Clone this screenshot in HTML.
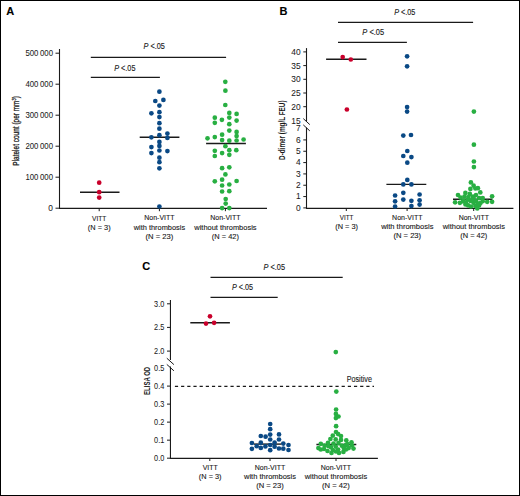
<!DOCTYPE html>
<html><head><meta charset="utf-8"><style>
html,body{margin:0;padding:0;background:#fff;}
body{width:520px;height:496px;overflow:hidden;}
svg{display:block;font-family:"Liberation Sans", sans-serif;}
</style></head><body>
<svg width="520" height="496" viewBox="0 0 520 496">
<rect x="0" y="0" width="520" height="496" fill="#fff"/>
<rect x="0.5" y="0.5" width="519" height="495" fill="none" stroke="#000" stroke-width="1"/>
<text x="6.3" y="14.8" font-size="11" text-anchor="start" font-weight="bold" font-style="normal" fill="#000" stroke="#000" stroke-width="0.12" >A</text>
<line x1="59.5" y1="49" x2="59.5" y2="208.9" stroke="#1a1a1a" stroke-width="1.1" />
<line x1="59.0" y1="208.4" x2="267" y2="208.4" stroke="#1a1a1a" stroke-width="1.2" />
<line x1="55.5" y1="53.2" x2="59.5" y2="53.2" stroke="#1a1a1a" stroke-width="1.0" />
<text x="53" y="56.1" font-size="8.4" text-anchor="end" font-weight="normal" font-style="normal" fill="#1a1a1a" stroke="#1a1a1a" stroke-width="0.05" textLength="27.6" lengthAdjust="spacingAndGlyphs" >500 000</text>
<line x1="55.5" y1="84.2" x2="59.5" y2="84.2" stroke="#1a1a1a" stroke-width="1.0" />
<text x="53" y="87.10000000000001" font-size="8.4" text-anchor="end" font-weight="normal" font-style="normal" fill="#1a1a1a" stroke="#1a1a1a" stroke-width="0.05" textLength="27.6" lengthAdjust="spacingAndGlyphs" >400 000</text>
<line x1="55.5" y1="115.2" x2="59.5" y2="115.2" stroke="#1a1a1a" stroke-width="1.0" />
<text x="53" y="118.10000000000001" font-size="8.4" text-anchor="end" font-weight="normal" font-style="normal" fill="#1a1a1a" stroke="#1a1a1a" stroke-width="0.05" textLength="27.6" lengthAdjust="spacingAndGlyphs" >300 000</text>
<line x1="55.5" y1="146.2" x2="59.5" y2="146.2" stroke="#1a1a1a" stroke-width="1.0" />
<text x="53" y="149.1" font-size="8.4" text-anchor="end" font-weight="normal" font-style="normal" fill="#1a1a1a" stroke="#1a1a1a" stroke-width="0.05" textLength="27.6" lengthAdjust="spacingAndGlyphs" >200 000</text>
<line x1="55.5" y1="177.2" x2="59.5" y2="177.2" stroke="#1a1a1a" stroke-width="1.0" />
<text x="53" y="180.1" font-size="8.4" text-anchor="end" font-weight="normal" font-style="normal" fill="#1a1a1a" stroke="#1a1a1a" stroke-width="0.05" textLength="27.6" lengthAdjust="spacingAndGlyphs" >100 000</text>
<line x1="55.5" y1="208.2" x2="59.5" y2="208.2" stroke="#1a1a1a" stroke-width="1.0" />
<text x="53" y="211.1" font-size="8.4" text-anchor="end" font-weight="normal" font-style="normal" fill="#1a1a1a" stroke="#1a1a1a" stroke-width="0.05" >0</text>
<line x1="99.2" y1="208.4" x2="99.2" y2="211.2" stroke="#1a1a1a" stroke-width="1.0" />
<line x1="159.4" y1="208.4" x2="159.4" y2="211.2" stroke="#1a1a1a" stroke-width="1.0" />
<line x1="225.4" y1="208.4" x2="225.4" y2="211.2" stroke="#1a1a1a" stroke-width="1.0" />
<line x1="90.8" y1="57.45" x2="226.1" y2="57.45" stroke="#1a1a1a" stroke-width="1.2" />
<line x1="90.8" y1="77.45" x2="159.9" y2="77.45" stroke="#1a1a1a" stroke-width="1.2" />
<text x="114.2" y="70.7" font-size="8.4" fill="#1a1a1a" stroke="#1a1a1a" stroke-width="0.12" textLength="21.299999999999997" lengthAdjust="spacingAndGlyphs"><tspan font-style="italic">P</tspan> &lt;.05</text>
<text x="143.5" y="49.2" font-size="8.4" fill="#1a1a1a" stroke="#1a1a1a" stroke-width="0.12" textLength="21.400000000000006" lengthAdjust="spacingAndGlyphs"><tspan font-style="italic">P</tspan> &lt;.05</text>
<text transform="translate(19.0,130.9) rotate(-90)" font-size="9" text-anchor="middle" fill="#1a1a1a" stroke="#1a1a1a" stroke-width="0.3" textLength="69.5" lengthAdjust="spacingAndGlyphs">Platelet count (per mm<tspan font-size="5.5" dy="-3">3</tspan><tspan dy="3">)</tspan></text>
<line x1="80.0" y1="192.2" x2="119.5" y2="192.2" stroke="#1a1a1a" stroke-width="1.4" />
<line x1="139.7" y1="137.3" x2="179.4" y2="137.3" stroke="#1a1a1a" stroke-width="1.4" />
<line x1="206.1" y1="143.5" x2="245.9" y2="143.5" stroke="#1a1a1a" stroke-width="1.4" />
<circle cx="99.2" cy="182.7" r="2.35" fill="#c9002b"/>
<circle cx="99.2" cy="192.2" r="2.35" fill="#c9002b"/>
<circle cx="99.2" cy="197.6" r="2.35" fill="#c9002b"/>
<circle cx="159.4" cy="91.65" r="2.35" fill="#0a4985"/>
<circle cx="155.3" cy="101.0" r="2.35" fill="#0a4985"/>
<circle cx="163.4" cy="99.9" r="2.35" fill="#0a4985"/>
<circle cx="159.4" cy="105.6" r="2.35" fill="#0a4985"/>
<circle cx="151.4" cy="113.3" r="2.35" fill="#0a4985"/>
<circle cx="159.4" cy="112.2" r="2.35" fill="#0a4985"/>
<circle cx="159.4" cy="117.1" r="2.35" fill="#0a4985"/>
<circle cx="159.4" cy="123.2" r="2.35" fill="#0a4985"/>
<circle cx="159.4" cy="128.7" r="2.35" fill="#0a4985"/>
<circle cx="159.4" cy="135.2" r="2.35" fill="#0a4985"/>
<circle cx="151.4" cy="137.3" r="2.35" fill="#0a4985"/>
<circle cx="167.4" cy="133.6" r="2.35" fill="#0a4985"/>
<circle cx="167.4" cy="137.9" r="2.35" fill="#0a4985"/>
<circle cx="159.4" cy="141.9" r="2.35" fill="#0a4985"/>
<circle cx="159.4" cy="145.9" r="2.35" fill="#0a4985"/>
<circle cx="159.4" cy="150.5" r="2.35" fill="#0a4985"/>
<circle cx="151.4" cy="147.1" r="2.35" fill="#0a4985"/>
<circle cx="151.4" cy="153.1" r="2.35" fill="#0a4985"/>
<circle cx="167.4" cy="151.1" r="2.35" fill="#0a4985"/>
<circle cx="159.4" cy="157.7" r="2.35" fill="#0a4985"/>
<circle cx="159.4" cy="162.2" r="2.35" fill="#0a4985"/>
<circle cx="159.4" cy="168.3" r="2.35" fill="#0a4985"/>
<circle cx="159.4" cy="206.5" r="2.35" fill="#0a4985"/>
<circle cx="225.3" cy="81.8" r="2.35" fill="#28af42"/>
<circle cx="225.4" cy="90.7" r="2.35" fill="#28af42"/>
<circle cx="225.3" cy="105.0" r="2.35" fill="#28af42"/>
<circle cx="229.3" cy="112.9" r="2.35" fill="#28af42"/>
<circle cx="236.6" cy="113.9" r="2.35" fill="#28af42"/>
<circle cx="214.8" cy="117.7" r="2.35" fill="#28af42"/>
<circle cx="221.9" cy="119.8" r="2.35" fill="#28af42"/>
<circle cx="229.3" cy="117.6" r="2.35" fill="#28af42"/>
<circle cx="236.6" cy="120.6" r="2.35" fill="#28af42"/>
<circle cx="214.8" cy="122.8" r="2.35" fill="#28af42"/>
<circle cx="229.3" cy="124.2" r="2.35" fill="#28af42"/>
<circle cx="229.3" cy="130.6" r="2.35" fill="#28af42"/>
<circle cx="236.6" cy="131.9" r="2.35" fill="#28af42"/>
<circle cx="236.6" cy="136.1" r="2.35" fill="#28af42"/>
<circle cx="236.6" cy="140.5" r="2.35" fill="#28af42"/>
<circle cx="207.5" cy="138.3" r="2.35" fill="#28af42"/>
<circle cx="214.8" cy="137.1" r="2.35" fill="#28af42"/>
<circle cx="222.1" cy="134.7" r="2.35" fill="#28af42"/>
<circle cx="222.1" cy="140.1" r="2.35" fill="#28af42"/>
<circle cx="229.3" cy="140.7" r="2.35" fill="#28af42"/>
<circle cx="243.6" cy="139.5" r="2.35" fill="#28af42"/>
<circle cx="225.4" cy="146.2" r="2.35" fill="#28af42"/>
<circle cx="214.8" cy="150.8" r="2.35" fill="#28af42"/>
<circle cx="222.1" cy="153.1" r="2.35" fill="#28af42"/>
<circle cx="229.3" cy="150.2" r="2.35" fill="#28af42"/>
<circle cx="236.3" cy="150.2" r="2.35" fill="#28af42"/>
<circle cx="214.8" cy="156.0" r="2.35" fill="#28af42"/>
<circle cx="229.3" cy="154.8" r="2.35" fill="#28af42"/>
<circle cx="222.1" cy="168.2" r="2.35" fill="#28af42"/>
<circle cx="229.3" cy="167.3" r="2.35" fill="#28af42"/>
<circle cx="225.4" cy="174.4" r="2.35" fill="#28af42"/>
<circle cx="214.8" cy="181.3" r="2.35" fill="#28af42"/>
<circle cx="222.1" cy="179.7" r="2.35" fill="#28af42"/>
<circle cx="236.6" cy="181.0" r="2.35" fill="#28af42"/>
<circle cx="222.1" cy="185.5" r="2.35" fill="#28af42"/>
<circle cx="229.3" cy="184.5" r="2.35" fill="#28af42"/>
<circle cx="222.1" cy="191.5" r="2.35" fill="#28af42"/>
<circle cx="229.3" cy="191.2" r="2.35" fill="#28af42"/>
<circle cx="225.7" cy="199.0" r="2.35" fill="#28af42"/>
<circle cx="225.7" cy="203.6" r="2.35" fill="#28af42"/>
<circle cx="222.1" cy="208.1" r="2.35" fill="#28af42"/>
<circle cx="229.3" cy="208.1" r="2.35" fill="#28af42"/>
<text x="99.2" y="220.6" font-size="8.0" text-anchor="middle" font-weight="normal" font-style="normal" fill="#1a1a1a" stroke="#1a1a1a" stroke-width="0.12" textLength="14.3" lengthAdjust="spacingAndGlyphs" >VITT</text>
<text x="99.2" y="229.6" font-size="8.0" text-anchor="middle" font-weight="normal" font-style="normal" fill="#1a1a1a" stroke="#1a1a1a" stroke-width="0.12" textLength="22.8" lengthAdjust="spacingAndGlyphs" >(N = 3)</text>
<text x="159.4" y="220.4" font-size="8.0" text-anchor="middle" font-weight="normal" font-style="normal" fill="#1a1a1a" stroke="#1a1a1a" stroke-width="0.12" textLength="30.3" lengthAdjust="spacingAndGlyphs" >Non-VITT</text>
<text x="159.4" y="229.7" font-size="8.0" text-anchor="middle" font-weight="normal" font-style="normal" fill="#1a1a1a" stroke="#1a1a1a" stroke-width="0.12" textLength="51.4" lengthAdjust="spacingAndGlyphs" >with thrombosis</text>
<text x="159.4" y="238.6" font-size="8.0" text-anchor="middle" font-weight="normal" font-style="normal" fill="#1a1a1a" stroke="#1a1a1a" stroke-width="0.12" textLength="27.7" lengthAdjust="spacingAndGlyphs" >(N = 23)</text>
<text x="225.4" y="220.4" font-size="8.0" text-anchor="middle" font-weight="normal" font-style="normal" fill="#1a1a1a" stroke="#1a1a1a" stroke-width="0.12" textLength="30.3" lengthAdjust="spacingAndGlyphs" >Non-VITT</text>
<text x="225.4" y="229.6" font-size="8.0" text-anchor="middle" font-weight="normal" font-style="normal" fill="#1a1a1a" stroke="#1a1a1a" stroke-width="0.12" textLength="62.3" lengthAdjust="spacingAndGlyphs" >without thrombosis</text>
<text x="225.4" y="238.6" font-size="8.0" text-anchor="middle" font-weight="normal" font-style="normal" fill="#1a1a1a" stroke="#1a1a1a" stroke-width="0.12" textLength="27.1" lengthAdjust="spacingAndGlyphs" >(N = 42)</text>
<text x="279.5" y="14.9" font-size="11" text-anchor="start" font-weight="bold" font-style="normal" fill="#000" stroke="#000" stroke-width="0.12" >B</text>
<line x1="306.5" y1="48.1" x2="306.5" y2="121.3" stroke="#1a1a1a" stroke-width="1.1" />
<line x1="306.5" y1="127.6" x2="306.5" y2="208.9" stroke="#1a1a1a" stroke-width="1.1" />
<line x1="306.0" y1="208.4" x2="513.4" y2="208.4" stroke="#1a1a1a" stroke-width="1.2" />
<line x1="303.3" y1="51.9" x2="306.5" y2="51.9" stroke="#1a1a1a" stroke-width="1.0" />
<text x="300.6" y="54.8" font-size="8.4" text-anchor="end" font-weight="normal" font-style="normal" fill="#1a1a1a" stroke="#1a1a1a" stroke-width="0.05" >40</text>
<line x1="303.3" y1="65.6" x2="306.5" y2="65.6" stroke="#1a1a1a" stroke-width="1.0" />
<text x="300.6" y="68.5" font-size="8.4" text-anchor="end" font-weight="normal" font-style="normal" fill="#1a1a1a" stroke="#1a1a1a" stroke-width="0.05" >35</text>
<line x1="303.3" y1="79.3" x2="306.5" y2="79.3" stroke="#1a1a1a" stroke-width="1.0" />
<text x="300.6" y="82.2" font-size="8.4" text-anchor="end" font-weight="normal" font-style="normal" fill="#1a1a1a" stroke="#1a1a1a" stroke-width="0.05" >30</text>
<line x1="303.3" y1="93.0" x2="306.5" y2="93.0" stroke="#1a1a1a" stroke-width="1.0" />
<text x="300.6" y="95.9" font-size="8.4" text-anchor="end" font-weight="normal" font-style="normal" fill="#1a1a1a" stroke="#1a1a1a" stroke-width="0.05" >25</text>
<line x1="303.3" y1="106.69999999999999" x2="306.5" y2="106.69999999999999" stroke="#1a1a1a" stroke-width="1.0" />
<text x="300.6" y="109.6" font-size="8.4" text-anchor="end" font-weight="normal" font-style="normal" fill="#1a1a1a" stroke="#1a1a1a" stroke-width="0.05" >20</text>
<text x="300.6" y="123.6" font-size="8.4" text-anchor="end" font-weight="normal" font-style="normal" fill="#1a1a1a" stroke="#1a1a1a" stroke-width="0.05" >15</text>
<line x1="303.3" y1="207.9" x2="306.5" y2="207.9" stroke="#1a1a1a" stroke-width="1.0" />
<text x="300.6" y="210.8" font-size="8.4" text-anchor="end" font-weight="normal" font-style="normal" fill="#1a1a1a" stroke="#1a1a1a" stroke-width="0.05" >0</text>
<line x1="303.3" y1="196.57" x2="306.5" y2="196.57" stroke="#1a1a1a" stroke-width="1.0" />
<text x="300.6" y="199.47" font-size="8.4" text-anchor="end" font-weight="normal" font-style="normal" fill="#1a1a1a" stroke="#1a1a1a" stroke-width="0.05" >1</text>
<line x1="303.3" y1="185.24" x2="306.5" y2="185.24" stroke="#1a1a1a" stroke-width="1.0" />
<text x="300.6" y="188.14000000000001" font-size="8.4" text-anchor="end" font-weight="normal" font-style="normal" fill="#1a1a1a" stroke="#1a1a1a" stroke-width="0.05" >2</text>
<line x1="303.3" y1="173.91" x2="306.5" y2="173.91" stroke="#1a1a1a" stroke-width="1.0" />
<text x="300.6" y="176.81" font-size="8.4" text-anchor="end" font-weight="normal" font-style="normal" fill="#1a1a1a" stroke="#1a1a1a" stroke-width="0.05" >3</text>
<line x1="303.3" y1="162.58" x2="306.5" y2="162.58" stroke="#1a1a1a" stroke-width="1.0" />
<text x="300.6" y="165.48000000000002" font-size="8.4" text-anchor="end" font-weight="normal" font-style="normal" fill="#1a1a1a" stroke="#1a1a1a" stroke-width="0.05" >4</text>
<line x1="303.3" y1="151.25" x2="306.5" y2="151.25" stroke="#1a1a1a" stroke-width="1.0" />
<text x="300.6" y="154.15" font-size="8.4" text-anchor="end" font-weight="normal" font-style="normal" fill="#1a1a1a" stroke="#1a1a1a" stroke-width="0.05" >5</text>
<line x1="303.3" y1="139.92000000000002" x2="306.5" y2="139.92000000000002" stroke="#1a1a1a" stroke-width="1.0" />
<text x="300.6" y="142.82000000000002" font-size="8.4" text-anchor="end" font-weight="normal" font-style="normal" fill="#1a1a1a" stroke="#1a1a1a" stroke-width="0.05" >6</text>
<text x="300.6" y="130.9" font-size="8.4" text-anchor="end" font-weight="normal" font-style="normal" fill="#1a1a1a" stroke="#1a1a1a" stroke-width="0.05" >7</text>
<line x1="303.3" y1="118.6" x2="309.8" y2="124.6" stroke="#1a1a1a" stroke-width="1.0" />
<line x1="303.3" y1="124.9" x2="309.8" y2="130.9" stroke="#1a1a1a" stroke-width="1.0" />
<line x1="346.3" y1="208.4" x2="346.3" y2="211.0" stroke="#1a1a1a" stroke-width="1.0" />
<line x1="407.1" y1="208.4" x2="407.1" y2="211.0" stroke="#1a1a1a" stroke-width="1.0" />
<line x1="473.7" y1="208.4" x2="473.7" y2="211.0" stroke="#1a1a1a" stroke-width="1.0" />
<line x1="338.0" y1="22.4" x2="473.1" y2="22.4" stroke="#1a1a1a" stroke-width="1.2" />
<line x1="338.0" y1="42.4" x2="406.9" y2="42.4" stroke="#1a1a1a" stroke-width="1.2" />
<text x="362.3" y="34.5" font-size="8.4" fill="#1a1a1a" stroke="#1a1a1a" stroke-width="0.12" textLength="21.899999999999977" lengthAdjust="spacingAndGlyphs"><tspan font-style="italic">P</tspan> &lt;.05</text>
<text x="394.2" y="15.0" font-size="8.4" fill="#1a1a1a" stroke="#1a1a1a" stroke-width="0.12" textLength="21.19999999999999" lengthAdjust="spacingAndGlyphs"><tspan font-style="italic">P</tspan> &lt;.05</text>
<text transform="translate(285.0,130.2) rotate(-90)" font-size="8.6" font-weight="bold" text-anchor="middle" fill="#1a1a1a" textLength="59.5" lengthAdjust="spacingAndGlyphs">D-dimer (mg/L FEU)</text>
<line x1="326.1" y1="59.2" x2="366.5" y2="59.2" stroke="#1a1a1a" stroke-width="1.4" />
<line x1="386.4" y1="184.4" x2="426.3" y2="184.4" stroke="#1a1a1a" stroke-width="1.4" />
<line x1="453.0" y1="199.2" x2="492.4" y2="199.2" stroke="#1a1a1a" stroke-width="1.4" />
<circle cx="342.7" cy="57.1" r="2.35" fill="#c9002b"/>
<circle cx="350.8" cy="59.5" r="2.35" fill="#c9002b"/>
<circle cx="346.9" cy="109.5" r="2.35" fill="#c9002b"/>
<circle cx="407.1" cy="56.3" r="2.35" fill="#0a4985"/>
<circle cx="407.1" cy="66.3" r="2.35" fill="#0a4985"/>
<circle cx="407.1" cy="107.1" r="2.35" fill="#0a4985"/>
<circle cx="407.1" cy="111.6" r="2.35" fill="#0a4985"/>
<circle cx="403.3" cy="135.6" r="2.35" fill="#0a4985"/>
<circle cx="411.0" cy="135.0" r="2.35" fill="#0a4985"/>
<circle cx="407.3" cy="151.0" r="2.35" fill="#0a4985"/>
<circle cx="403.3" cy="156.0" r="2.35" fill="#0a4985"/>
<circle cx="411.4" cy="157.1" r="2.35" fill="#0a4985"/>
<circle cx="407.3" cy="162.7" r="2.35" fill="#0a4985"/>
<circle cx="407.3" cy="179.9" r="2.35" fill="#0a4985"/>
<circle cx="403.3" cy="184.4" r="2.35" fill="#0a4985"/>
<circle cx="411.4" cy="184.4" r="2.35" fill="#0a4985"/>
<circle cx="403.3" cy="192.8" r="2.35" fill="#0a4985"/>
<circle cx="403.3" cy="199.6" r="2.35" fill="#0a4985"/>
<circle cx="395.1" cy="195.5" r="2.35" fill="#0a4985"/>
<circle cx="395.1" cy="201.3" r="2.35" fill="#0a4985"/>
<circle cx="395.1" cy="206.5" r="2.35" fill="#0a4985"/>
<circle cx="411.4" cy="200.8" r="2.35" fill="#0a4985"/>
<circle cx="411.4" cy="206.1" r="2.35" fill="#0a4985"/>
<circle cx="419.6" cy="194.5" r="2.35" fill="#0a4985"/>
<circle cx="419.6" cy="200.3" r="2.35" fill="#0a4985"/>
<circle cx="419.6" cy="204.6" r="2.35" fill="#0a4985"/>
<circle cx="473.9" cy="111.6" r="2.35" fill="#28af42"/>
<circle cx="473.9" cy="144.7" r="2.35" fill="#28af42"/>
<circle cx="473.9" cy="161.5" r="2.35" fill="#28af42"/>
<circle cx="473.9" cy="167.1" r="2.35" fill="#28af42"/>
<circle cx="470.9" cy="182.4" r="2.35" fill="#28af42"/>
<circle cx="473.6" cy="185.7" r="2.35" fill="#28af42"/>
<circle cx="475.4" cy="188.5" r="2.35" fill="#28af42"/>
<circle cx="477.9" cy="188.2" r="2.35" fill="#28af42"/>
<circle cx="470.4" cy="188.9" r="2.35" fill="#28af42"/>
<circle cx="465.4" cy="192.9" r="2.35" fill="#28af42"/>
<circle cx="469.8" cy="193.9" r="2.35" fill="#28af42"/>
<circle cx="480.3" cy="192.4" r="2.35" fill="#28af42"/>
<circle cx="458.0" cy="195.0" r="2.35" fill="#28af42"/>
<circle cx="460.6" cy="197.6" r="2.35" fill="#28af42"/>
<circle cx="455.1" cy="202.3" r="2.35" fill="#28af42"/>
<circle cx="459.9" cy="202.8" r="2.35" fill="#28af42"/>
<circle cx="467.7" cy="199.7" r="2.35" fill="#28af42"/>
<circle cx="473.0" cy="196.5" r="2.35" fill="#28af42"/>
<circle cx="476.0" cy="195.1" r="2.35" fill="#28af42"/>
<circle cx="473.6" cy="198.1" r="2.35" fill="#28af42"/>
<circle cx="479.1" cy="198.1" r="2.35" fill="#28af42"/>
<circle cx="482.7" cy="198.1" r="2.35" fill="#28af42"/>
<circle cx="482.7" cy="201.2" r="2.35" fill="#28af42"/>
<circle cx="487.2" cy="201.8" r="2.35" fill="#28af42"/>
<circle cx="492.1" cy="196.3" r="2.35" fill="#28af42"/>
<circle cx="492.1" cy="201.8" r="2.35" fill="#28af42"/>
<circle cx="468.2" cy="205.4" r="2.35" fill="#28af42"/>
<circle cx="473.5" cy="202.8" r="2.35" fill="#28af42"/>
<circle cx="476.0" cy="201.2" r="2.35" fill="#28af42"/>
<circle cx="479.1" cy="205.4" r="2.35" fill="#28af42"/>
<circle cx="475.4" cy="206.0" r="2.35" fill="#28af42"/>
<circle cx="477.3" cy="208.4" r="2.35" fill="#28af42"/>
<circle cx="463.5" cy="200.5" r="2.35" fill="#28af42"/>
<circle cx="465.5" cy="204.5" r="2.35" fill="#28af42"/>
<circle cx="470.5" cy="201.0" r="2.35" fill="#28af42"/>
<circle cx="471.0" cy="206.5" r="2.35" fill="#28af42"/>
<circle cx="464.5" cy="196.5" r="2.35" fill="#28af42"/>
<circle cx="468.5" cy="197.0" r="2.35" fill="#28af42"/>
<circle cx="480.5" cy="203.0" r="2.35" fill="#28af42"/>
<circle cx="472.0" cy="200.0" r="2.35" fill="#28af42"/>
<circle cx="478.0" cy="203.5" r="2.35" fill="#28af42"/>
<circle cx="463.0" cy="201.5" r="2.35" fill="#28af42"/>
<circle cx="466.0" cy="203.0" r="2.35" fill="#28af42"/>
<text x="346.6" y="220.3" font-size="8.0" text-anchor="middle" font-weight="normal" font-style="normal" fill="#1a1a1a" stroke="#1a1a1a" stroke-width="0.12" textLength="13.7" lengthAdjust="spacingAndGlyphs" >VITT</text>
<text x="346.6" y="229.4" font-size="8.0" text-anchor="middle" font-weight="normal" font-style="normal" fill="#1a1a1a" stroke="#1a1a1a" stroke-width="0.12" textLength="22.8" lengthAdjust="spacingAndGlyphs" >(N = 3)</text>
<text x="407.3" y="220.2" font-size="8.0" text-anchor="middle" font-weight="normal" font-style="normal" fill="#1a1a1a" stroke="#1a1a1a" stroke-width="0.12" textLength="30.4" lengthAdjust="spacingAndGlyphs" >Non-VITT</text>
<text x="407.3" y="229.4" font-size="8.0" text-anchor="middle" font-weight="normal" font-style="normal" fill="#1a1a1a" stroke="#1a1a1a" stroke-width="0.12" textLength="52.3" lengthAdjust="spacingAndGlyphs" >with thrombosis</text>
<text x="407.3" y="238.3" font-size="8.0" text-anchor="middle" font-weight="normal" font-style="normal" fill="#1a1a1a" stroke="#1a1a1a" stroke-width="0.12" textLength="27.7" lengthAdjust="spacingAndGlyphs" >(N = 23)</text>
<text x="473.8" y="220.2" font-size="8.0" text-anchor="middle" font-weight="normal" font-style="normal" fill="#1a1a1a" stroke="#1a1a1a" stroke-width="0.12" textLength="30.3" lengthAdjust="spacingAndGlyphs" >Non-VITT</text>
<text x="473.8" y="229.4" font-size="8.0" text-anchor="middle" font-weight="normal" font-style="normal" fill="#1a1a1a" stroke="#1a1a1a" stroke-width="0.12" textLength="62.3" lengthAdjust="spacingAndGlyphs" >without thrombosis</text>
<text x="473.8" y="238.3" font-size="8.0" text-anchor="middle" font-weight="normal" font-style="normal" fill="#1a1a1a" stroke="#1a1a1a" stroke-width="0.12" textLength="27.1" lengthAdjust="spacingAndGlyphs" >(N = 42)</text>
<text x="142.3" y="270.2" font-size="11" text-anchor="start" font-weight="bold" font-style="normal" fill="#000" stroke="#000" stroke-width="0.12" >C</text>
<line x1="170.45" y1="300.0" x2="170.45" y2="360.0" stroke="#1a1a1a" stroke-width="1.1" />
<line x1="170.45" y1="366.5" x2="170.45" y2="458.9" stroke="#1a1a1a" stroke-width="1.1" />
<line x1="169.95" y1="458.4" x2="377.9" y2="458.4" stroke="#1a1a1a" stroke-width="1.2" />
<line x1="167.0" y1="303.8" x2="170.45" y2="303.8" stroke="#1a1a1a" stroke-width="1.0" />
<text x="164.3" y="306.7" font-size="8.4" text-anchor="end" font-weight="normal" font-style="normal" fill="#1a1a1a" stroke="#1a1a1a" stroke-width="0.05" textLength="10.2" lengthAdjust="spacingAndGlyphs" >3.0</text>
<line x1="167.0" y1="327.4" x2="170.45" y2="327.4" stroke="#1a1a1a" stroke-width="1.0" />
<text x="164.3" y="330.29999999999995" font-size="8.4" text-anchor="end" font-weight="normal" font-style="normal" fill="#1a1a1a" stroke="#1a1a1a" stroke-width="0.05" textLength="10.2" lengthAdjust="spacingAndGlyphs" >2.5</text>
<line x1="167.0" y1="351.1" x2="170.45" y2="351.1" stroke="#1a1a1a" stroke-width="1.0" />
<text x="164.3" y="354.0" font-size="8.4" text-anchor="end" font-weight="normal" font-style="normal" fill="#1a1a1a" stroke="#1a1a1a" stroke-width="0.05" textLength="10.2" lengthAdjust="spacingAndGlyphs" >2.0</text>
<text x="164.3" y="370.7" font-size="8.4" text-anchor="end" font-weight="normal" font-style="normal" fill="#1a1a1a" stroke="#1a1a1a" stroke-width="0.05" textLength="10.2" lengthAdjust="spacingAndGlyphs" >0.5</text>
<line x1="167.0" y1="386.1" x2="170.45" y2="386.1" stroke="#1a1a1a" stroke-width="1.0" />
<text x="164.3" y="389.0" font-size="8.4" text-anchor="end" font-weight="normal" font-style="normal" fill="#1a1a1a" stroke="#1a1a1a" stroke-width="0.05" textLength="10.2" lengthAdjust="spacingAndGlyphs" >0.4</text>
<line x1="167.0" y1="404.12" x2="170.45" y2="404.12" stroke="#1a1a1a" stroke-width="1.0" />
<text x="164.3" y="407.02" font-size="8.4" text-anchor="end" font-weight="normal" font-style="normal" fill="#1a1a1a" stroke="#1a1a1a" stroke-width="0.05" textLength="10.2" lengthAdjust="spacingAndGlyphs" >0.3</text>
<line x1="167.0" y1="422.14000000000004" x2="170.45" y2="422.14000000000004" stroke="#1a1a1a" stroke-width="1.0" />
<text x="164.3" y="425.04" font-size="8.4" text-anchor="end" font-weight="normal" font-style="normal" fill="#1a1a1a" stroke="#1a1a1a" stroke-width="0.05" textLength="10.2" lengthAdjust="spacingAndGlyphs" >0.2</text>
<line x1="167.0" y1="440.16" x2="170.45" y2="440.16" stroke="#1a1a1a" stroke-width="1.0" />
<text x="164.3" y="443.06" font-size="8.4" text-anchor="end" font-weight="normal" font-style="normal" fill="#1a1a1a" stroke="#1a1a1a" stroke-width="0.05" textLength="10.2" lengthAdjust="spacingAndGlyphs" >0.1</text>
<line x1="167.0" y1="458.18" x2="170.45" y2="458.18" stroke="#1a1a1a" stroke-width="1.0" />
<text x="164.3" y="461.08" font-size="8.4" text-anchor="end" font-weight="normal" font-style="normal" fill="#1a1a1a" stroke="#1a1a1a" stroke-width="0.05" textLength="10.2" lengthAdjust="spacingAndGlyphs" >0.0</text>
<line x1="166.8" y1="358.2" x2="173.9" y2="364.6" stroke="#1a1a1a" stroke-width="1.0" />
<line x1="166.8" y1="364.4" x2="173.9" y2="370.8" stroke="#1a1a1a" stroke-width="1.0" />
<line x1="209.8" y1="458.4" x2="209.8" y2="461.0" stroke="#1a1a1a" stroke-width="1.0" />
<line x1="270.0" y1="458.4" x2="270.0" y2="461.0" stroke="#1a1a1a" stroke-width="1.0" />
<line x1="336.0" y1="458.4" x2="336.0" y2="461.0" stroke="#1a1a1a" stroke-width="1.0" />
<line x1="210.5" y1="277.45" x2="342.7" y2="277.45" stroke="#1a1a1a" stroke-width="1.2" />
<line x1="210.5" y1="297.4" x2="277.7" y2="297.4" stroke="#1a1a1a" stroke-width="1.2" />
<text x="232.0" y="289.9" font-size="8.4" fill="#1a1a1a" stroke="#1a1a1a" stroke-width="0.12" textLength="21.099999999999994" lengthAdjust="spacingAndGlyphs"><tspan font-style="italic">P</tspan> &lt;.05</text>
<text x="263.5" y="270.0" font-size="8.4" fill="#1a1a1a" stroke="#1a1a1a" stroke-width="0.12" textLength="21.5" lengthAdjust="spacingAndGlyphs"><tspan font-style="italic">P</tspan> &lt;.05</text>
<line x1="174.9" y1="386.4" x2="374.0" y2="386.4" stroke="#1a1a1a" stroke-width="1.3" stroke-dasharray="3.2 2.975"/>
<text x="346.7" y="382.3" font-size="8.5" text-anchor="start" font-weight="normal" font-style="normal" fill="#1a1a1a" stroke="#1a1a1a" stroke-width="0.12" textLength="25.2" lengthAdjust="spacingAndGlyphs" >Positive</text>
<text transform="translate(149.9,380.9) rotate(-90)" font-size="8.2" font-weight="bold" text-anchor="middle" fill="#1a1a1a" textLength="28" lengthAdjust="spacingAndGlyphs">ELISA OD</text>
<line x1="190.3" y1="322.8" x2="229.9" y2="322.8" stroke="#1a1a1a" stroke-width="1.4" />
<line x1="253.8" y1="444.1" x2="281.5" y2="444.1" stroke="#1a1a1a" stroke-width="1.4" />
<line x1="316.4" y1="444.5" x2="356.3" y2="444.5" stroke="#1a1a1a" stroke-width="1.4" />
<circle cx="210.0" cy="316.3" r="2.35" fill="#c9002b"/>
<circle cx="206.0" cy="323.6" r="2.35" fill="#c9002b"/>
<circle cx="214.1" cy="322.8" r="2.35" fill="#c9002b"/>
<circle cx="270.2" cy="424.0" r="2.35" fill="#0a4985"/>
<circle cx="270.2" cy="429.2" r="2.35" fill="#0a4985"/>
<circle cx="270.2" cy="434.6" r="2.35" fill="#0a4985"/>
<circle cx="270.2" cy="439.5" r="2.35" fill="#0a4985"/>
<circle cx="260.8" cy="436.0" r="2.35" fill="#0a4985"/>
<circle cx="265.6" cy="436.7" r="2.35" fill="#0a4985"/>
<circle cx="279.0" cy="434.4" r="2.35" fill="#0a4985"/>
<circle cx="279.0" cy="439.5" r="2.35" fill="#0a4985"/>
<circle cx="251.9" cy="443.0" r="2.35" fill="#0a4985"/>
<circle cx="251.9" cy="448.8" r="2.35" fill="#0a4985"/>
<circle cx="256.7" cy="446.2" r="2.35" fill="#0a4985"/>
<circle cx="260.8" cy="442.7" r="2.35" fill="#0a4985"/>
<circle cx="260.8" cy="447.9" r="2.35" fill="#0a4985"/>
<circle cx="265.4" cy="446.4" r="2.35" fill="#0a4985"/>
<circle cx="270.2" cy="445.0" r="2.35" fill="#0a4985"/>
<circle cx="270.2" cy="450.2" r="2.35" fill="#0a4985"/>
<circle cx="274.6" cy="442.7" r="2.35" fill="#0a4985"/>
<circle cx="274.6" cy="446.7" r="2.35" fill="#0a4985"/>
<circle cx="279.0" cy="448.5" r="2.35" fill="#0a4985"/>
<circle cx="283.3" cy="443.6" r="2.35" fill="#0a4985"/>
<circle cx="283.3" cy="448.7" r="2.35" fill="#0a4985"/>
<circle cx="288.5" cy="445.0" r="2.35" fill="#0a4985"/>
<circle cx="288.5" cy="450.0" r="2.35" fill="#0a4985"/>
<circle cx="335.8" cy="352.1" r="2.35" fill="#28af42"/>
<circle cx="336.3" cy="391.6" r="2.35" fill="#28af42"/>
<circle cx="336.1" cy="409.5" r="2.35" fill="#28af42"/>
<circle cx="335.9" cy="413.9" r="2.35" fill="#28af42"/>
<circle cx="338.5" cy="416.5" r="2.35" fill="#28af42"/>
<circle cx="335.9" cy="418.1" r="2.35" fill="#28af42"/>
<circle cx="336.1" cy="426.2" r="2.35" fill="#28af42"/>
<circle cx="336.0" cy="432.0" r="2.35" fill="#28af42"/>
<circle cx="338.1" cy="434.1" r="2.35" fill="#28af42"/>
<circle cx="341.0" cy="436.1" r="2.35" fill="#28af42"/>
<circle cx="332.8" cy="435.6" r="2.35" fill="#28af42"/>
<circle cx="330.4" cy="439.0" r="2.35" fill="#28af42"/>
<circle cx="335.7" cy="439.4" r="2.35" fill="#28af42"/>
<circle cx="341.0" cy="439.9" r="2.35" fill="#28af42"/>
<circle cx="346.3" cy="440.4" r="2.35" fill="#28af42"/>
<circle cx="351.5" cy="442.3" r="2.35" fill="#28af42"/>
<circle cx="320.8" cy="443.8" r="2.35" fill="#28af42"/>
<circle cx="328.0" cy="442.8" r="2.35" fill="#28af42"/>
<circle cx="318.4" cy="448.1" r="2.35" fill="#28af42"/>
<circle cx="320.8" cy="449.5" r="2.35" fill="#28af42"/>
<circle cx="324.6" cy="445.7" r="2.35" fill="#28af42"/>
<circle cx="330.9" cy="447.1" r="2.35" fill="#28af42"/>
<circle cx="335.7" cy="446.6" r="2.35" fill="#28af42"/>
<circle cx="341.9" cy="445.7" r="2.35" fill="#28af42"/>
<circle cx="345.8" cy="445.2" r="2.35" fill="#28af42"/>
<circle cx="348.7" cy="448.1" r="2.35" fill="#28af42"/>
<circle cx="353.5" cy="448.6" r="2.35" fill="#28af42"/>
<circle cx="327.5" cy="451.0" r="2.35" fill="#28af42"/>
<circle cx="332.8" cy="450.0" r="2.35" fill="#28af42"/>
<circle cx="339.0" cy="452.9" r="2.35" fill="#28af42"/>
<circle cx="343.4" cy="451.9" r="2.35" fill="#28af42"/>
<circle cx="338.1" cy="449.5" r="2.35" fill="#28af42"/>
<circle cx="343.8" cy="448.1" r="2.35" fill="#28af42"/>
<circle cx="328.5" cy="446.2" r="2.35" fill="#28af42"/>
<circle cx="333.5" cy="443.5" r="2.35" fill="#28af42"/>
<circle cx="338.5" cy="443.0" r="2.35" fill="#28af42"/>
<circle cx="347.5" cy="444.0" r="2.35" fill="#28af42"/>
<circle cx="324.0" cy="449.0" r="2.35" fill="#28af42"/>
<circle cx="336.0" cy="451.5" r="2.35" fill="#28af42"/>
<circle cx="346.0" cy="449.5" r="2.35" fill="#28af42"/>
<circle cx="331.5" cy="453.0" r="2.35" fill="#28af42"/>
<circle cx="352.0" cy="445.5" r="2.35" fill="#28af42"/>
<text x="210.2" y="470.3" font-size="8.0" text-anchor="middle" font-weight="normal" font-style="normal" fill="#1a1a1a" stroke="#1a1a1a" stroke-width="0.12" textLength="15.0" lengthAdjust="spacingAndGlyphs" >VITT</text>
<text x="210.2" y="479.4" font-size="8.0" text-anchor="middle" font-weight="normal" font-style="normal" fill="#1a1a1a" stroke="#1a1a1a" stroke-width="0.12" textLength="22.7" lengthAdjust="spacingAndGlyphs" >(N = 3)</text>
<text x="270.0" y="470.2" font-size="8.0" text-anchor="middle" font-weight="normal" font-style="normal" fill="#1a1a1a" stroke="#1a1a1a" stroke-width="0.12" textLength="30.4" lengthAdjust="spacingAndGlyphs" >Non-VITT</text>
<text x="270.0" y="479.3" font-size="8.0" text-anchor="middle" font-weight="normal" font-style="normal" fill="#1a1a1a" stroke="#1a1a1a" stroke-width="0.12" textLength="52.0" lengthAdjust="spacingAndGlyphs" >with thrombosis</text>
<text x="270.0" y="488.4" font-size="8.0" text-anchor="middle" font-weight="normal" font-style="normal" fill="#1a1a1a" stroke="#1a1a1a" stroke-width="0.12" textLength="27.7" lengthAdjust="spacingAndGlyphs" >(N = 23)</text>
<text x="335.9" y="470.2" font-size="8.0" text-anchor="middle" font-weight="normal" font-style="normal" fill="#1a1a1a" stroke="#1a1a1a" stroke-width="0.12" textLength="30.4" lengthAdjust="spacingAndGlyphs" >Non-VITT</text>
<text x="335.9" y="479.3" font-size="8.0" text-anchor="middle" font-weight="normal" font-style="normal" fill="#1a1a1a" stroke="#1a1a1a" stroke-width="0.12" textLength="62.5" lengthAdjust="spacingAndGlyphs" >without thrombosis</text>
<text x="335.9" y="488.4" font-size="8.0" text-anchor="middle" font-weight="normal" font-style="normal" fill="#1a1a1a" stroke="#1a1a1a" stroke-width="0.12" textLength="27.8" lengthAdjust="spacingAndGlyphs" >(N = 42)</text>
</svg>
</body></html>
